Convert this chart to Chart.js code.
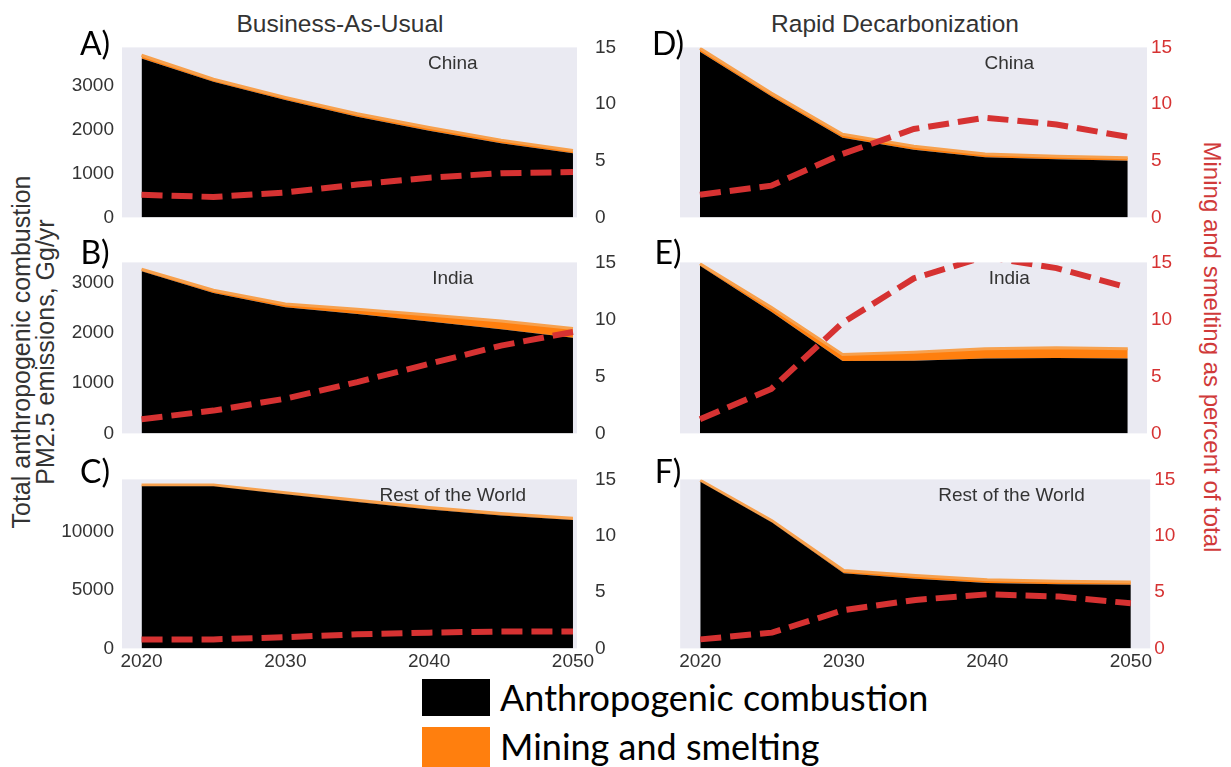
<!DOCTYPE html>
<html lang="en">
  <head>
    <meta charset="utf-8" />
    <title>PM2.5 emissions: Business-As-Usual vs Rapid Decarbonization</title>
    <script src="https://cdn.jsdelivr.net/npm/chart.js/dist/chart.umd.min.js"></script>
    <style>
      * {
        margin: 0;
        padding: 0;
      }
      body {
        background: #fff;
      }
      #figure {
        position: relative;
        width: 1231px;
        height: 767px;
        overflow: hidden;
        background: #fff;
        font-family: "Liberation Sans", Arial, sans-serif;
      }
      #figure canvas {
        position: absolute;
      }
      .txt {
        position: absolute;
        white-space: nowrap;
        transform: translate(-50%, -50%);
      }
      .colTitle {
        font-size: 24.5px;
        color: #333;
      }
      .letter {
        font-family: Lato, "Open Sans", sans-serif;
        font-size: 32px;
        color: #000;
      }
      .legendBox {
        position: absolute;
        left: 422px;
        width: 68px;
      }
      .legendText {
        position: absolute;
        left: 500px;
        font-family: Lato, "Open Sans", sans-serif;
        font-size: 36px;
        line-height: 42px;
        color: #000;
        white-space: nowrap;
      }
    </style>
  </head>
  <body>
    <div id="figure">
      <div class="txt colTitle" style="left: 340px; top: 24px">Business-As-Usual</div>
      <div class="txt colTitle" style="left: 895px; top: 24px">Rapid Decarbonization</div>

      <div class="txt" style="left: 33px; top: 352px; transform: translate(-50%, -50%) rotate(-90deg); font-size: 25px; color: #333; text-align: center; line-height: 24px">
        Total anthropogenic combustion<br />PM2.5 emissions, Gg/yr
      </div>
      <div class="txt" style="left: 1212px; top: 347px; transform: translate(-50%, -50%) rotate(90deg); font-size: 24px; color: #d03a3a">
        Mining and smelting as percent of total
      </div>

      <div class="legendBox" style="top: 679px; height: 37px; background: #000"></div>
      <div class="legendText" style="top: 676px">Anthropogenic combustion</div>
      <div class="legendBox" style="top: 727px; height: 40px; background: #ff7f0e"></div>
      <div class="legendText" style="top: 725px">Mining and smelting</div>
    </div>

    <script>
      const years = [2020, 2025, 2030, 2035, 2040, 2045, 2050];
      const yearTicks = [2020, 2030, 2040, 2050];
      const percentTicks = [0, 5, 10, 15];
      const smallTicks = [0, 1000, 2000, 3000];
      const worldTicks = [0, 5000, 10000];

      // Business-As-Usual, Gg/yr and percent
      const chinaBauCombustion = [3625, 3095, 2680, 2295, 1980, 1695, 1465];
      const chinaBauMining = [75, 57, 60, 69, 72, 69, 61];
      const chinaBauPercent = [2.0, 1.8, 2.2, 2.9, 3.5, 3.9, 4.0];

      const indiaBauCombustion = [3225, 2790, 2510, 2375, 2225, 2070, 1900];
      const indiaBauMining = [40, 55, 65, 95, 130, 165, 186];
      const indiaBauPercent = [1.25, 2.0, 3.05, 4.5, 6.1, 7.7, 8.9];

      const worldBauCombustion = [13855, 13855, 13180, 12510, 11870, 11360, 10970];
      const worldBauMining = [112, 112, 137, 157, 169, 173, 167];
      const worldBauPercent = [0.8, 0.8, 1.0, 1.25, 1.4, 1.5, 1.5];

      // Rapid Decarbonization
      const chinaRdCombustion = [3625, 2650, 1745, 1480, 1315, 1270, 1240];
      const chinaRdMining = [75, 70, 75, 78, 75, 70, 65];
      const chinaRdPercent = [2.0, 2.8, 5.6, 7.8, 8.8, 8.2, 7.1];

      const indiaRdCombustion = [3225, 2340, 1395, 1400, 1440, 1450, 1440];
      const indiaRdMining = [40, 85, 125, 160, 187, 200, 187];
      const indiaRdPercent = [1.25, 3.9, 9.7, 13.6, 15.5, 14.5, 12.8];

      const worldRdCombustion = [13855, 10460, 6255, 5800, 5430, 5335, 5290];
      const worldRdMining = [112, 148, 220, 261, 274, 257, 220];
      const worldRdPercent = [0.8, 1.4, 3.4, 4.3, 4.8, 4.6, 4.0];

      const RED = "#d63232";
      const ORANGE = "#ff7f0e";
      const TEXT = "#333";
      const FONT = "'Liberation Sans', Arial, sans-serif";

      // plot-area boxes for the two columns and three rows
      const columns = [
        { x0: 122, x1: 577, padL: 82, padR: 55, xmin: 2018.64, xmax: 2050.28, rightPad: 18, rightColor: TEXT, letterX: 95, nameAt: 0.727 },
        { x0: 680, x1: 1150, padL: 0, padR: 50, xmin: 2018.6, xmax: 2051.35, rightPad: 4, rightColor: RED, letterX: 668, nameAt: 0.705 },
      ];
      const rows = [
        { y0: 47, y1: 217, letterY: 42 },
        { y0: 262, y1: 433, letterY: 251 },
        { y0: 479, y1: 648, letterY: 470 },
      ];

      const panels = [
        { letter: "A)", name: "China", col: 0, row: 0, comb: chinaBauCombustion, mine: chinaBauMining, pct: chinaBauPercent, yMax: 3880, ticks: smallTicks },
        { letter: "B)", name: "India", col: 0, row: 1, comb: indiaBauCombustion, mine: indiaBauMining, pct: indiaBauPercent, yMax: 3400, ticks: smallTicks },
        { letter: "C)", name: "Rest of the World", col: 0, row: 2, comb: worldBauCombustion, mine: worldBauMining, pct: worldBauPercent, yMax: 14450, ticks: worldTicks },
        { letter: "D)", name: "China", col: 1, row: 0, comb: chinaRdCombustion, mine: chinaRdMining, pct: chinaRdPercent, yMax: 3720, ticks: smallTicks },
        { letter: "E)", name: "India", col: 1, row: 1, comb: indiaRdCombustion, mine: indiaRdMining, pct: indiaRdPercent, yMax: 3290, ticks: smallTicks },
        { letter: "F)", name: "Rest of the World", col: 1, row: 2, comb: worldRdCombustion, mine: worldRdMining, pct: worldRdPercent, yMax: 14050, ticks: worldTicks },
      ];

      // grey seaborn-like panel background + region name
      const panelDecor = {
        id: "panelDecor",
        beforeDraw(chart) {
          const { ctx, chartArea: a } = chart;
          ctx.save();
          ctx.fillStyle = "#eaeaf2";
          ctx.fillRect(a.left, a.top, a.right - a.left, a.bottom - a.top);
          ctx.restore();
        },
        beforeDatasetsDraw(chart, args, opts) {
          const { ctx, chartArea: a } = chart;
          ctx.save();
          ctx.fillStyle = TEXT;
          ctx.font = `19px ${FONT}`;
          ctx.textAlign = "center";
          ctx.textBaseline = "middle";
          ctx.fillText(opts.text, a.left + (a.right - a.left) * opts.at, a.top + 16);
          ctx.restore();
        },
      };

      const toPoints = (arr) => arr.map((v, i) => ({ x: years[i], y: v }));
      const setTicks = (list) => (scale) => {
        scale.ticks = list.map((v) => ({ value: v }));
      };
      const tickFont = { family: FONT, size: 19 };

      const figure = document.getElementById("figure");

      panels.forEach((p) => {
        const col = columns[p.col];
        const row = rows[p.row];
        const bottomRow = p.row === 2;
        const areaW = col.x1 - col.x0;
        const areaH = row.y1 - row.y0;

        const canvas = document.createElement("canvas");
        canvas.width = areaW + col.padL + col.padR;
        canvas.height = areaH + (bottomRow ? 50 : 20);
        figure.appendChild(canvas);

        const letter = document.createElement("div");
        letter.className = "txt letter";
        letter.style.left = col.letterX + "px";
        letter.style.top = row.letterY + "px";
        letter.textContent = p.letter;
        figure.appendChild(letter);

        const chart = new Chart(canvas, {
          type: "line",
          data: {
            datasets: [
              {
                label: "Mining and smelting as percent of total",
                data: toPoints(p.pct),
                yAxisID: "y1",
                borderColor: RED,
                borderWidth: 6,
                borderDash: [21, 9],
                borderCapStyle: "butt",
                pointRadius: 0,
                fill: false,
                clip: 0,
              },
              {
                label: "Anthropogenic combustion",
                data: toPoints(p.comb),
                yAxisID: "y",
                backgroundColor: "#000",
                borderColor: "#000",
                borderWidth: 0,
                pointRadius: 0,
                fill: "origin",
              },
              {
                label: "Mining and smelting",
                data: toPoints(p.mine),
                yAxisID: "y",
                backgroundColor: ORANGE,
                borderColor: "#f7a14e",
                borderWidth: 3,
                pointRadius: 0,
                fill: "-1",
              },
            ],
          },
          options: {
            responsive: false,
            maintainAspectRatio: false,
            animation: false,
            events: [],
            layout: { padding: { top: 12, bottom: bottomRow ? 0 : 6 } },
            scales: {
              x: {
                type: "linear",
                min: col.xmin,
                max: col.xmax,
                display: bottomRow,
                afterBuildTicks: setTicks(yearTicks),
                grid: { display: false, drawTicks: false },
                border: { display: false },
                ticks: {
                  color: TEXT,
                  font: tickFont,
                  padding: 2,
                  maxRotation: 0,
                  callback: (v) => String(v),
                },
              },
              y: {
                stacked: true,
                min: 0,
                max: p.yMax,
                display: p.col === 0,
                position: "left",
                afterBuildTicks: setTicks(p.ticks),
                afterFit: (s) => {
                  s.width = col.padL;
                },
                grid: { display: false, drawTicks: false },
                border: { display: false },
                ticks: {
                  color: TEXT,
                  font: tickFont,
                  padding: 8,
                  callback: (v) => String(v),
                },
              },
              y1: {
                min: 0,
                max: 15,
                position: "right",
                afterBuildTicks: setTicks(percentTicks),
                afterFit: (s) => {
                  s.width = col.padR;
                },
                grid: { display: false, drawTicks: false },
                border: { display: false },
                ticks: {
                  color: col.rightColor,
                  font: tickFont,
                  padding: col.rightPad,
                  callback: (v) => String(v),
                },
              },
            },
            plugins: {
              legend: { display: false },
              tooltip: { enabled: false },
              panelDecor: { text: p.name, at: col.nameAt },
            },
          },
          plugins: [panelDecor],
        });

        // grow the canvas so the plot area gets its full size, then pin it in place
        const a = chart.chartArea;
        chart.resize(
          canvas.width + areaW - (a.right - a.left),
          canvas.height + areaH - (a.bottom - a.top)
        );
        const b = chart.chartArea;
        canvas.style.left = col.x0 - b.left + "px";
        canvas.style.top = row.y0 - b.top + "px";
      });
    </script>
  </body>
</html>
